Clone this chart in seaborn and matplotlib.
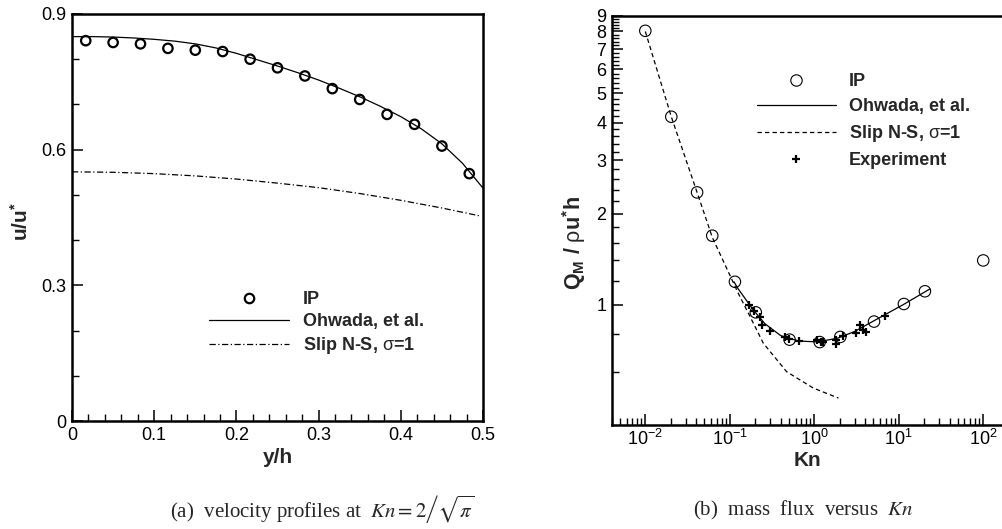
import numpy as np
import matplotlib
matplotlib.use("Agg")
import matplotlib.pyplot as plt
import matplotlib.ticker as mticker
from matplotlib.lines import Line2D
import seaborn as sns

# ---- (a) velocity profile across the channel ----
y_h_ip = [0.0167, 0.05, 0.0833, 0.1167, 0.15, 0.1833, 0.2167, 0.25,
          0.2833, 0.3167, 0.35, 0.3833, 0.4167, 0.45, 0.4833]
u_ip = [0.841, 0.837, 0.834, 0.824, 0.820, 0.817, 0.800, 0.781,
        0.763, 0.735, 0.711, 0.678, 0.656, 0.608, 0.547]

y_h_ohwada = [0, 0.025, 0.05, 0.075, 0.1, 0.125, 0.15, 0.175, 0.2, 0.225, 0.25,
              0.275, 0.3, 0.325, 0.35, 0.375, 0.4, 0.425, 0.45, 0.475, 0.5]
u_ohwada = [0.850, 0.850, 0.849, 0.847, 0.844, 0.840, 0.834, 0.825, 0.813, 0.799, 0.785,
            0.770, 0.754, 0.736, 0.717, 0.696, 0.673, 0.646, 0.613, 0.570, 0.515]

y_h_slip = [0, 0.05, 0.1, 0.15, 0.2, 0.25, 0.3, 0.35, 0.4, 0.45, 0.495]
u_slip = [0.551, 0.550, 0.547, 0.542, 0.535, 0.526, 0.516, 0.503, 0.488, 0.471, 0.454]

# ---- (b) mass flux versus Knudsen number ----
kn_ip = [0.01, 0.0203, 0.041, 0.062, 0.115, 0.203, 0.51, 1.16, 2.03, 5.1, 11.5, 20.4, 100]
q_ip = [8.04, 4.18, 2.35, 1.69, 1.19, 0.943, 0.766, 0.752, 0.782, 0.879, 1.005, 1.107, 1.40]

kn_ohwada = [0.112, 0.125, 0.19, 0.26, 0.40, 0.65, 1.1, 1.9, 3.0, 5.0, 11.3, 23.4]
q_ohwada = [1.19, 1.13, 0.96, 0.865, 0.79, 0.758, 0.753, 0.775, 0.815, 0.882, 1.0, 1.127]

kn_slip = [0.01, 0.0203, 0.041, 0.062, 0.126, 0.173, 0.249, 0.471, 0.973, 1.93]
q_slip = [8.0, 4.18, 2.35, 1.67, 1.09, 0.915, 0.746, 0.60, 0.53, 0.491]

kn_exp = [0.170, 0.193, 0.228, 0.239, 0.299, 0.45, 0.506, 0.664, 1.085, 1.19,
          1.28, 1.81, 1.81, 2.2, 3.11, 3.47, 3.8, 4.09, 6.87]
q_exp = [1.0, 0.95, 0.91, 0.854, 0.82, 0.782, 0.77, 0.756, 0.762, 0.754,
         0.75, 0.762, 0.741, 0.785, 0.806, 0.859, 0.822, 0.81, 0.915]

legend_labels = ["IP", "Ohwada, et al.", r"Slip N-S, $\mathrm{\sigma}$=1", "Experiment"]

sns.set_theme(style="white")
plt.rcParams.update({
    "font.family": ["Liberation Sans", "DejaVu Sans"],
    "mathtext.fontset": "custom",
    "mathtext.rm": "Liberation Sans",
    "mathtext.it": "Liberation Sans:italic",
    "mathtext.bf": "Liberation Sans:bold",
    "axes.edgecolor": "black",
    "axes.linewidth": 1.8,
    "xtick.color": "black",
    "ytick.color": "black",
    "xtick.direction": "in",
    "ytick.direction": "in",
    "xtick.bottom": True,
    "ytick.left": True,
    "xtick.top": False,
    "ytick.right": False,
    "xtick.major.size": 8,
    "ytick.major.size": 8,
    "xtick.minor.size": 4.8,
    "ytick.minor.size": 4.8,
    "xtick.major.width": 1.1,
    "ytick.major.width": 1.1,
    "xtick.minor.width": 1.0,
    "ytick.minor.width": 1.0,
    "xtick.labelsize": 13,
    "ytick.labelsize": 13,
})

W, H = 1002, 529
fig = plt.figure(figsize=(W / 100, H / 100), dpi=100)
fig.patch.set_facecolor("white")

ax1 = fig.add_axes([72 / W, (H - 421) / H, 411 / W, 407 / H])
ax2 = fig.add_axes([611.7 / W, (H - 425) / H, 391 / W, 409 / H])

dashdot = (0, (5, 2, 1, 2))
dashed = (0, (3.5, 2.5))

# ---- panel (a) ----
sns.lineplot(x=y_h_ohwada, y=u_ohwada, ax=ax1, color="black", lw=0.9, estimator=None)
sns.lineplot(x=y_h_slip, y=u_slip, ax=ax1, color="black", lw=0.9, linestyle=dashdot,
             estimator=None)
sns.scatterplot(x=y_h_ip, y=u_ip, ax=ax1, marker="o", s=46, facecolor="none",
                edgecolor="black", linewidth=1.6, zorder=3)

ax1.set_xlim(0, 0.5)
ax1.set_ylim(0, 0.9)
ax1.xaxis.set_major_locator(mticker.MultipleLocator(0.1))
ax1.xaxis.set_minor_locator(mticker.MultipleLocator(0.02))
ax1.yaxis.set_major_locator(mticker.MultipleLocator(0.3))
ax1.yaxis.set_minor_locator(mticker.MultipleLocator(0.1))
fmt = mticker.FuncFormatter(lambda v, p: f"{v:.1f}".rstrip("0").rstrip(".") if v else "0")
ax1.xaxis.set_major_formatter(fmt)
ax1.yaxis.set_major_formatter(fmt)
ax1.tick_params(axis="both", which="major", pad=4)
ax1.set_xlabel("y/h", fontsize=15, fontweight="bold", labelpad=3)
ax1.set_ylabel(r"$\mathbf{u/u^{*}}$", fontsize=15)
ax1.yaxis.set_label_coords(-0.097, 0.49)

h_ip = Line2D([], [], marker="o", ls="none", mfc="none", mec="black", mew=1.6, ms=6.8)
h_ohw = Line2D([], [], color="black", lw=0.9)
h_slip_a = Line2D([], [], color="black", lw=0.9, ls=dashdot)
ax1.legend([h_ip, h_ohw, h_slip_a], legend_labels[:3], loc="upper left",
           bbox_to_anchor=(209 / W, 1 - 291 / H), bbox_transform=fig.transFigure,
           frameon=False, borderpad=0, borderaxespad=0, handlelength=4.43,
           handletextpad=0.78, labelspacing=0.29,
           prop={"weight": "bold", "size": 13})

# ---- panel (b) ----
ax2.set_xscale("log")
ax2.set_yscale("log")
sns.lineplot(x=kn_ohwada, y=q_ohwada, ax=ax2, color="black", lw=0.9, estimator=None)
sns.lineplot(x=kn_slip, y=q_slip, ax=ax2, color="black", lw=0.9, linestyle=dashed,
             estimator=None)
sns.scatterplot(x=kn_ip, y=q_ip, ax=ax2, marker="o", s=68, facecolor="none",
                edgecolor="black", linewidth=0.8, zorder=3)
sns.scatterplot(x=kn_exp, y=q_exp, ax=ax2, marker="+", s=30, color="black",
                linewidth=1.6, zorder=4)

ax2.set_xlim(0.004, 170)
ax2.set_ylim(0.4, 9)
ax2.xaxis.set_major_locator(mticker.LogLocator(base=10, numticks=12))
ax2.xaxis.set_minor_locator(mticker.LogLocator(base=10, subs=np.arange(2, 10), numticks=12))
ax2.xaxis.set_major_formatter(mticker.LogFormatterSciNotation(base=10))
ax2.xaxis.set_minor_formatter(mticker.NullFormatter())
ax2.yaxis.set_major_locator(mticker.FixedLocator(np.arange(1, 10)))
minor_y = [v for v in np.round(np.arange(0.6, 9.0, 0.2), 1) if abs(v - round(v)) > 1e-6]
ax2.yaxis.set_minor_locator(mticker.FixedLocator(minor_y))
ax2.yaxis.set_major_formatter(mticker.FuncFormatter(lambda v, p: f"{v:.0f}"))
ax2.yaxis.set_minor_formatter(mticker.NullFormatter())
ax2.tick_params(axis="both", which="major", pad=4)
ax2.tick_params(axis="x", which="major", pad=3)
ax2.set_xlabel("Kn", fontsize=15, fontweight="bold", labelpad=1.5)
ax2.set_ylabel(r"$\mathbf{Q_{M}}$ / $\mathrm{\rho}\mathbf{u^{*}h}$", fontsize=15.5,
               fontweight="bold")
ax2.yaxis.set_label_coords(-0.061, 0.445)

h_ip2 = Line2D([], [], marker="o", ls="none", mfc="none", mec="black", mew=0.8, ms=8.2)
h_slip_b = Line2D([], [], color="black", lw=0.9, ls=dashed)
h_exp = Line2D([], [], marker="+", ls="none", color="black", mew=1.6, ms=5.5)
ax2.legend([h_ip2, h_ohw, h_slip_b, h_exp], legend_labels, loc="upper left",
           bbox_to_anchor=(757 / W, 1 - 73.5 / H), bbox_transform=fig.transFigure,
           frameon=False, borderpad=0, borderaxespad=0, handlelength=4.37,
           handletextpad=0.72, labelspacing=0.44,
           prop={"weight": "bold", "size": 13})

# ---- captions ----
fig.text(322 / W, 1 - 510 / H, r"(a)  velocity profiles at  $Kn=2\left/\sqrt{\pi}\right.$",
         family="Liberation Serif", size=15, math_fontfamily="stix",
         ha="center", va="center")
fig.text(803 / W, 1 - 510 / H, r"(b)  mass  flux  versus  $Kn$",
         family="Liberation Serif", size=15, math_fontfamily="stix",
         ha="center", va="center")

fig.savefig("out.png", dpi=100, facecolor="white")
